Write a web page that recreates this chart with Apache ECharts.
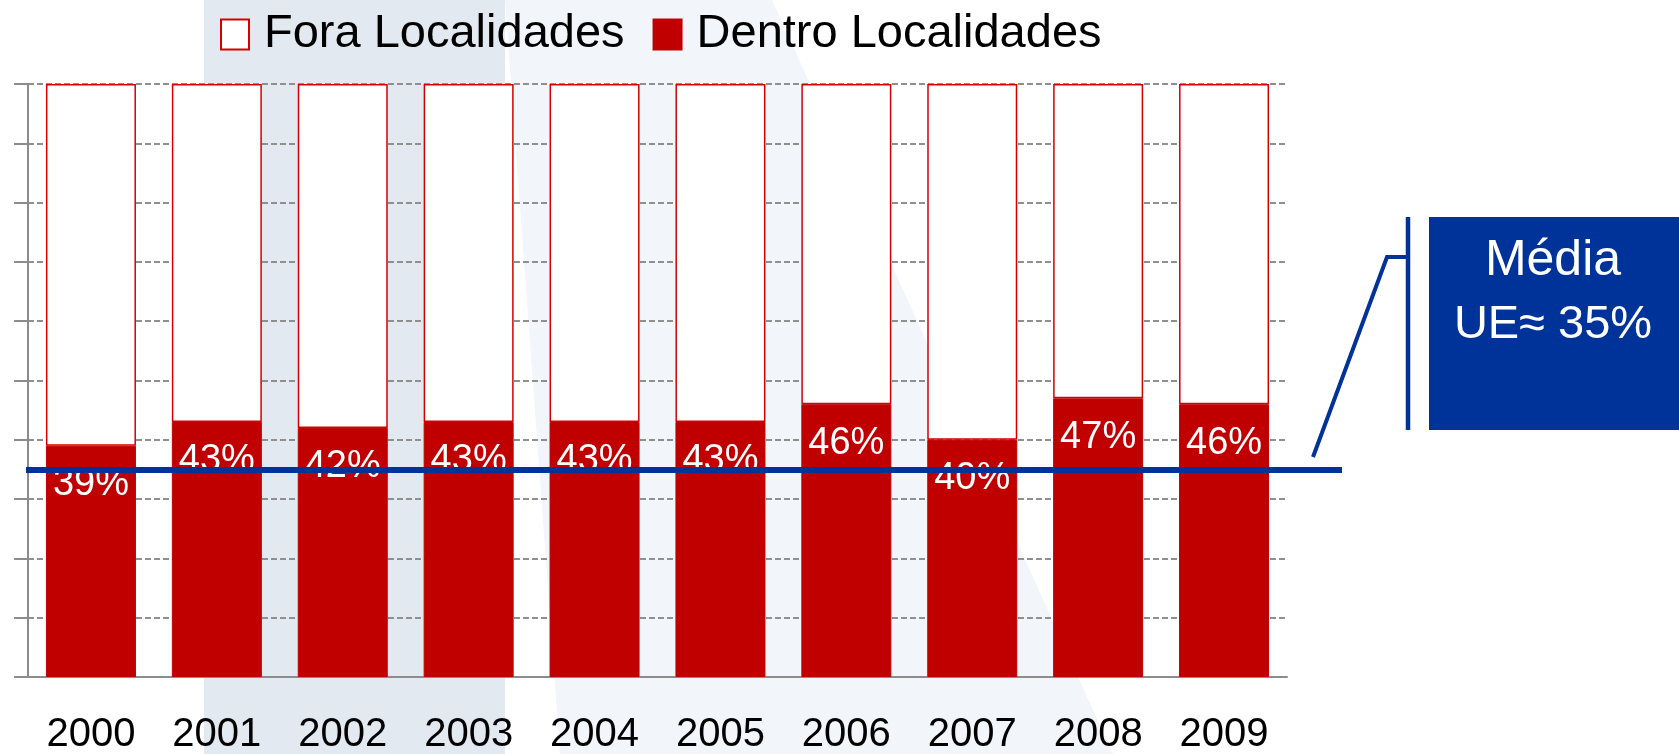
<!DOCTYPE html>
<html>
<head>
<meta charset="utf-8">
<script src="https://cdn.jsdelivr.net/npm/echarts@6/dist/echarts.min.js"></script>
<style>
  html, body { margin: 0; padding: 0; background: #fff; }
  #chart { width: 1679px; height: 754px; }
</style>
</head>
<body>
<div id="chart"></div>
<script>
// anos
const years = ['2000', '2001', '2002', '2003', '2004', '2005', '2006', '2007', '2008', '2009']
// % vítimas dentro / fora das localidades
const dentro = [39, 43, 42, 43, 43, 43, 46, 40, 47, 46]
const fora = [61, 57, 58, 57, 57, 57, 54, 60, 53, 54]
// média UE
const euAverage = 35

const FONT = "'Liberation Sans', Arial, sans-serif"
const RED = '#C00000'
const BLUE = '#003399'

const chart = echarts.init(document.getElementById('chart'))
chart.setOption({
  animation: false,
  textStyle: { fontFamily: FONT },
  // fundo decorativo
  graphic: [
    { type: 'rect', z: -10, silent: true, shape: { x: 204, y: 0, width: 301, height: 754 }, style: { fill: '#E3E9F1' } },
    { type: 'polygon', z: -10, silent: true, shape: { points: [[505, 0], [772, 0], [1113, 754], [560, 754]] }, style: { fill: '#F2F5FA' } },
    // caixa da média
    { type: 'rect', z: 10, shape: { x: 1429, y: 217, width: 250, height: 213 }, style: { fill: BLUE } },
    { type: 'line', z: 10, shape: { x1: 1408, y1: 217, x2: 1408, y2: 430 }, style: { stroke: BLUE, lineWidth: 4.5 } },
    { type: 'polyline', z: 10, shape: { points: [[1408, 257], [1387, 257], [1313, 457]] }, style: { stroke: BLUE, lineWidth: 4, fill: null } },
    { type: 'text', z: 11, x: 1553, y: 261, style: { text: 'Média', fill: '#fff', font: '50px ' + FONT, align: 'center', verticalAlign: 'middle' } },
    { type: 'text', z: 11, x: 1553, y: 325, style: { text: 'UE≈ ' + euAverage + '%', fill: '#fff', font: '47px ' + FONT, align: 'center', verticalAlign: 'middle' } }
  ],
  legend: {
    left: 215,
    top: 6,
    itemWidth: 28,
    itemHeight: 30,
    itemGap: 28,
    icon: 'rect',
    data: ['Fora Localidades', 'Dentro Localidades'],
    textStyle: { fontSize: 47, color: '#000', fontFamily: FONT, padding: [0, 0, 0, 10] }
  },
  grid: {
    left: 28,
    right: 392,
    top: 84,
    bottom: 77,
    outerBoundsMode: 'none'
  },
  xAxis: {
    type: 'category',
    data: years,
    axisLine: { lineStyle: { color: '#8c8c8c', width: 2 } },
    axisTick: { length: 14, lineStyle: { color: '#8c8c8c', width: 2 } },
    axisLabel: { fontSize: 40, color: '#000', margin: 38, fontFamily: FONT }
  },
  yAxis: {
    type: 'value',
    min: 0,
    max: 100,
    interval: 10,
    axisLine: { show: true, lineStyle: { color: '#8c8c8c', width: 2 } },
    axisTick: { show: true, length: 14, lineStyle: { color: '#8c8c8c', width: 2 } },
    axisLabel: { show: false },
    splitLine: { lineStyle: { color: '#8f8f8f', width: 2, type: [6, 3] } }
  },
  series: [
    {
      name: 'Dentro Localidades',
      type: 'bar',
      stack: 'total',
      barWidth: 90,
      data: dentro,
      itemStyle: { color: RED, borderColor: RED, borderWidth: 1 },
      label: {
        show: true,
        position: 'insideTop',
        distance: 20,
        color: '#fff',
        fontSize: 38,
        fontFamily: FONT,
        formatter: '{c}%'
      },
      markLine: {
        silent: true,
        symbol: 'none',
        z: 8,
        label: { show: false },
        lineStyle: { color: BLUE, width: 6, type: 'solid' },
        data: [[{ x: 26, yAxis: euAverage }, { x: 1342, yAxis: euAverage }]]
      }
    },
    {
      name: 'Fora Localidades',
      type: 'bar',
      stack: 'total',
      barWidth: 90,
      data: fora,
      itemStyle: { color: '#fff', borderColor: '#D40000', borderWidth: 1.5 }
    }
  ]
})
</script>
</body>
</html>
